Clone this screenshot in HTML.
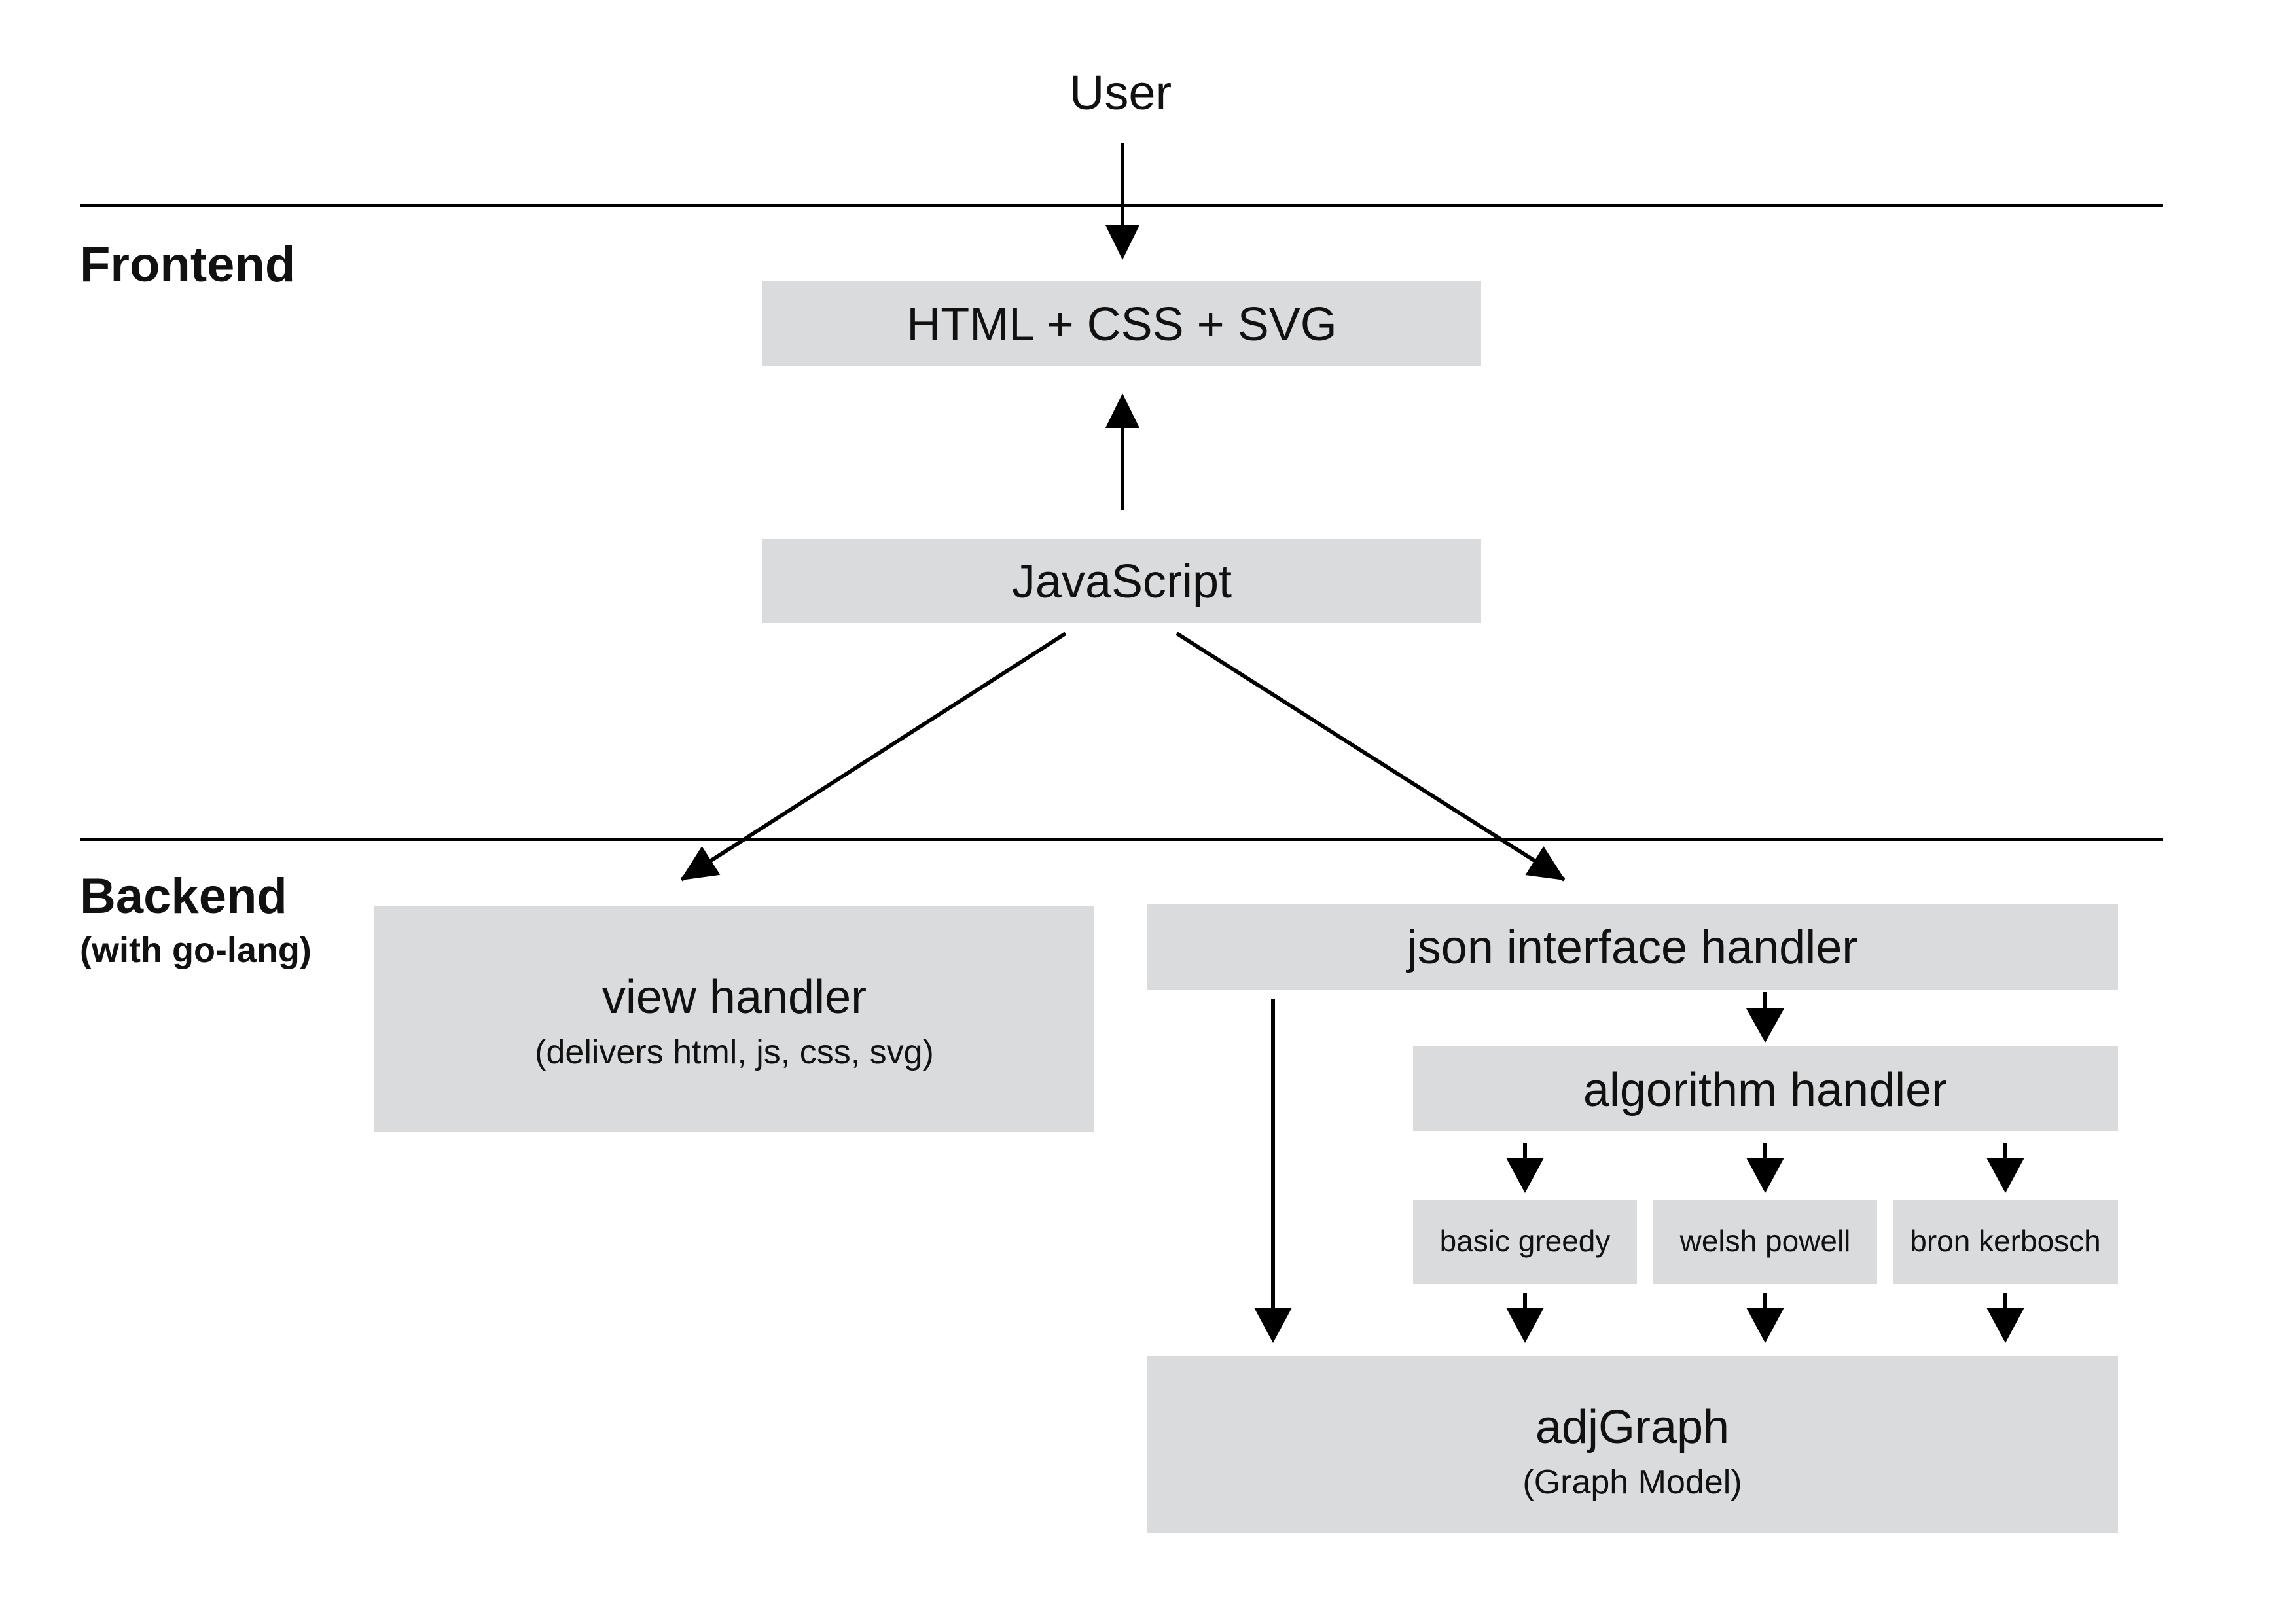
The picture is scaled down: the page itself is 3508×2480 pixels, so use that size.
<!DOCTYPE html>
<html><head><meta charset="utf-8"><style>
html,body{margin:0;padding:0;background:#fff;}
svg{display:block;}
text{font-family:"Liberation Sans",sans-serif;fill:#111;}
</style></head><body>
<svg width="3508" height="2480" viewBox="0 0 3508 2480" xmlns="http://www.w3.org/2000/svg">
<defs>
<marker id="ah" markerWidth="58" markerHeight="58" refX="54" refY="29" orient="auto" markerUnits="userSpaceOnUse">
<path d="M0,3 L56,29 L0,55 Z" fill="#000"/>
</marker>
</defs>
<g fill="#dadbdd">
<rect x="1164" y="430" width="1099" height="130"/>
<rect x="1164" y="823" width="1099" height="129"/>
<rect x="571" y="1384" width="1101" height="345"/>
<rect x="1753" y="1382" width="1483" height="130"/>
<rect x="2159" y="1599" width="1077" height="129"/>
<rect x="2159" y="1833" width="342" height="129"/>
<rect x="2525" y="1833" width="343" height="129"/>
<rect x="2893" y="1833" width="343" height="129"/>
<rect x="1753" y="2072" width="1483" height="270"/>
</g>
<g stroke="#000" stroke-width="4">
<line x1="122" y1="314" x2="3305" y2="314"/>
<line x1="122" y1="1283" x2="3305" y2="1283"/>
</g>
<g fill="#000">
<path d="M1689,344 L1741,344 L1715,397 Z"/>
<path d="M1689,654 L1741,654 L1715,601 Z"/>
<path d="M1916,1998 L1974,1998 L1945,2052 Z"/>
<path d="M2668,1541 L2726,1541 L2697,1593 Z"/>
<path d="M2301,1769 L2359,1769 L2330,1823 Z"/>
<path d="M2668,1769 L2726,1769 L2697,1823 Z"/>
<path d="M3035,1769 L3093,1769 L3064,1823 Z"/>
<path d="M2301,1998 L2359,1998 L2330,2052 Z"/>
<path d="M2668,1998 L2726,1998 L2697,2052 Z"/>
<path d="M3035,1998 L3093,1998 L3064,2052 Z"/>
</g>
<g stroke="#000" stroke-width="6">
<line x1="1715" y1="218" x2="1715" y2="350"/>
<line x1="1715" y1="650" x2="1715" y2="779"/>
<line x1="1945" y1="1527" x2="1945" y2="2002"/>
<line x1="2697" y1="1516" x2="2697" y2="1545"/>
<line x1="2330" y1="1746" x2="2330" y2="1772"/>
<line x1="2697" y1="1746" x2="2697" y2="1772"/>
<line x1="3064" y1="1746" x2="3064" y2="1772"/>
<line x1="2330" y1="1976" x2="2330" y2="2002"/>
<line x1="2697" y1="1976" x2="2697" y2="2002"/>
<line x1="3064" y1="1976" x2="3064" y2="2002"/>
<line x1="1628" y1="968" x2="1041" y2="1344" marker-end="url(#ah)"/>
<line x1="1798" y1="968" x2="2390" y2="1344" marker-end="url(#ah)"/>
</g>
<g text-anchor="middle">
<text x="1712" y="167" font-size="74">User</text>
<text x="1714" y="520" font-size="72">HTML + CSS + SVG</text>
<text x="1714" y="913" font-size="72">JavaScript</text>
<text x="1122" y="1548" font-size="72">view handler</text>
<text x="1122" y="1625" font-size="52">(delivers html, js, css, svg)</text>
<text x="2494" y="1472" font-size="72">json interface handler</text>
<text x="2697" y="1690" font-size="72">algorithm handler</text>
<text x="2330" y="1912" font-size="46">basic greedy</text>
<text x="2697" y="1912" font-size="46">welsh powell</text>
<text x="3064" y="1912" font-size="46">bron kerbosch</text>
<text x="2494" y="2205" font-size="72">adjGraph</text>
<text x="2494" y="2282" font-size="52">(Graph Model)</text>
</g>
<text x="122" y="430" font-size="76" font-weight="bold">Frontend</text>
<text x="122" y="1395" font-size="76" font-weight="bold">Backend</text>
<text x="122" y="1470" font-size="54" font-weight="bold">(with go-lang)</text>
</svg>
</body></html>
